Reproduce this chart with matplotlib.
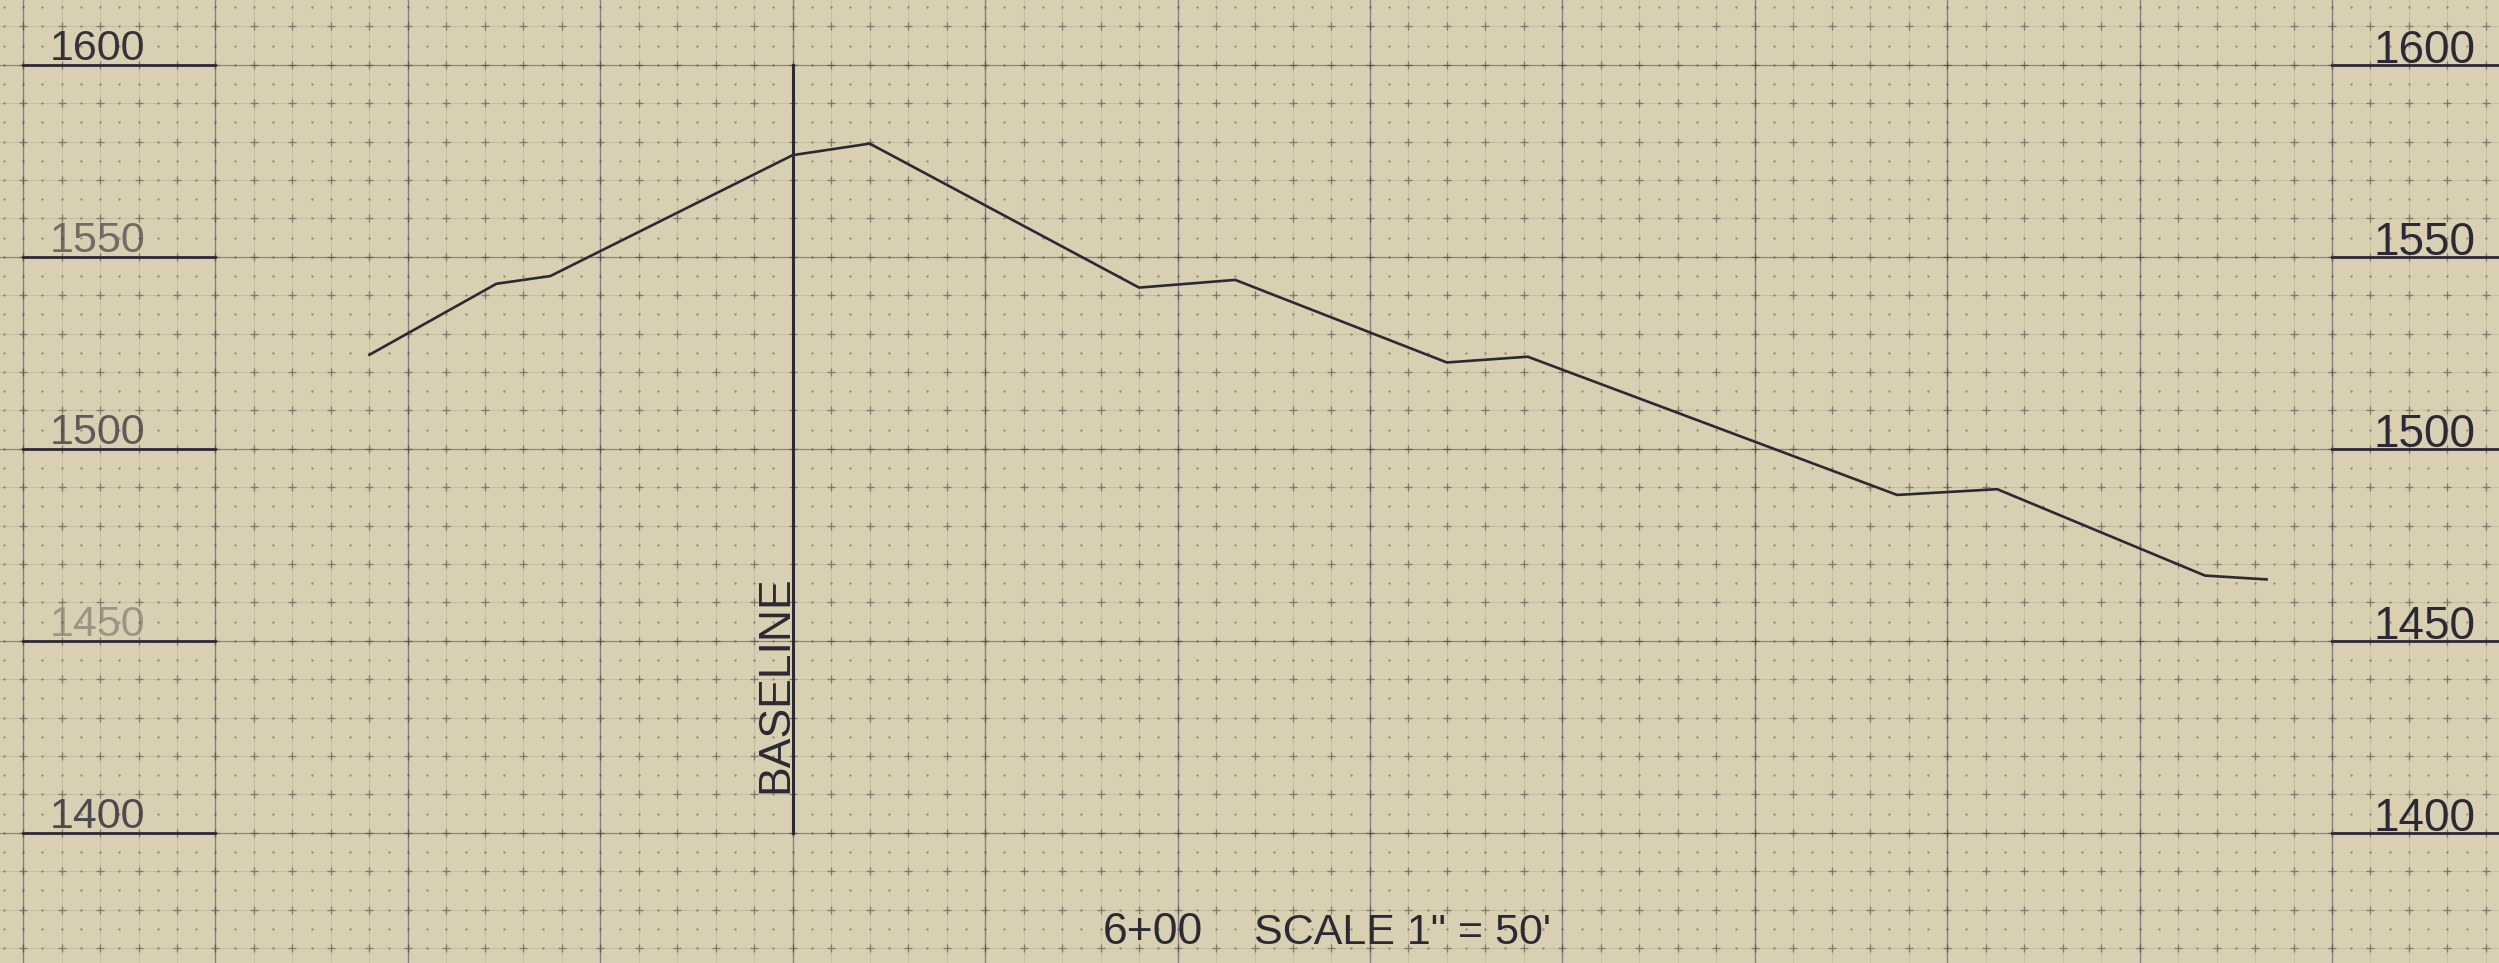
import matplotlib.pyplot as plt
import numpy as np

plt.switch_backend("Agg")

# ground profile: offset from baseline (ft) and elevation (ft)
STATION_FT = [-110, -77, -63, 0, 20, 90, 115, 170, 191, 287, 313, 367, 383]
ELEVATION_FT = [1524.5, 1543, 1545, 1576.5, 1579.5, 1542, 1544, 1522.5, 1524, 1488, 1489.5, 1467, 1466]

ELEV_LABELS = [1600, 1550, 1500, 1450, 1400]
LEFT_ALPHA = [0.95, 0.6, 0.7, 0.35, 0.8]  # left labels are badly faded on the scan
STATION_LABEL = "6+00"
SCALE_LABEL = "SCALE 1\" = 50'"
BASELINE_LABEL = "BASELINE"

PAPER = "#d9d0b3"
INK = "#2c2933"
GRID_FAINT = "#aaa28a"
GRID_DARK = "#6a6570"

X_MIN, X_MAX = -206.0, 443.4
Y_MIN, Y_MAX = 1366.1, 1616.9

plt.rcParams["font.family"] = ["Liberation Sans", "DejaVu Sans"]


def _draw_paper(ax: plt.Axes) -> None:
    for x in np.arange(-200, 441, 10):
        major = x % 50 == 0
        ax.axvline(x, color=GRID_DARK if major else GRID_FAINT,
                   lw=1.0 if major else 0.5, alpha=0.75 if major else 0.55, zorder=1)
    for y in np.arange(1370, 1617, 10):
        major = y % 50 == 0
        ax.axhline(y, color=GRID_DARK if major else GRID_FAINT,
                   lw=0.9 if major else 0.5, alpha=0.7 if major else 0.55, zorder=1)

    gx, gy = np.meshgrid(np.arange(-205, 445, 5), np.arange(1370, 1620, 5))
    gx, gy = gx.ravel(), gy.ravel()
    cross = (gx % 10 == 0) & (gy % 10 == 0)
    ax.scatter(gx[cross], gy[cross], marker="+", s=28, lw=1.0,
               color=INK, alpha=0.45, zorder=2)
    ax.scatter(gx[~cross], gy[~cross], marker="o", s=3, lw=0,
               color=INK, alpha=0.4, zorder=2)


def main() -> None:
    fig = plt.figure(figsize=(24.99, 9.63), dpi=100, facecolor=PAPER)
    ax = fig.add_axes([0, 0, 1, 1], facecolor=PAPER)
    ax.set_xlim(X_MIN, X_MAX)
    ax.set_ylim(Y_MIN, Y_MAX)
    ax.set_axis_off()

    _draw_paper(ax)

    # elevation labels both sides, underlined
    for v, a in zip(ELEV_LABELS, LEFT_ALPHA):
        ax.plot([-200, -150], [v, v], color=INK, lw=2.0, zorder=3)
        ax.text(-193, v + 1.3, str(v), ha="left", va="baseline",
                fontsize=31, color=INK, alpha=a, zorder=4)
        ax.plot([400, X_MAX], [v, v], color=INK, lw=2.0, zorder=3)
        ax.text(410.7, v + 0.5, str(v), ha="left", va="baseline",
                fontsize=33, color=INK, zorder=4)

    # baseline
    ax.plot([0, 0], [ELEV_LABELS[-1], ELEV_LABELS[0]], color=INK, lw=2.2, zorder=3)
    ax.text(-1.5, 1410.4, BASELINE_LABEL, rotation=90, rotation_mode="anchor",
            ha="left", va="baseline", fontsize=32, color=INK, zorder=4)

    # ground line
    ax.plot(STATION_FT, ELEVATION_FT, color=INK, lw=1.9, zorder=5,
            solid_joinstyle="round")

    ax.text(80.6, 1371.1, STATION_LABEL, ha="left", va="baseline",
            fontsize=32, color=INK, zorder=4)
    ax.text(119.9, 1371.1, SCALE_LABEL, ha="left", va="baseline",
            fontsize=31, color=INK, zorder=4)

    fig.savefig("out.png", dpi=100, facecolor=PAPER)
    plt.close(fig)


if __name__ == "__main__":
    main()
